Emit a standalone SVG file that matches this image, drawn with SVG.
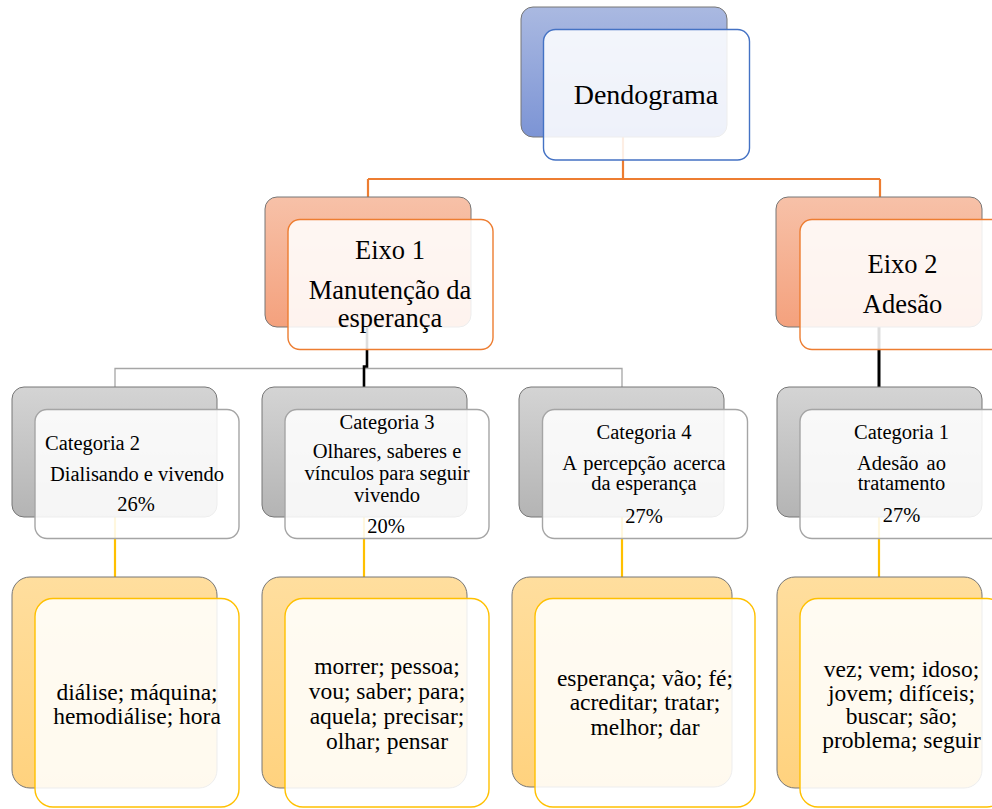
<svg xmlns="http://www.w3.org/2000/svg" width="992" height="809" viewBox="0 0 992 809">
  <defs>
    <linearGradient id="gBlue" x1="0" y1="0" x2="0" y2="1">
      <stop offset="0" stop-color="#AAB9E1"/>
      <stop offset="1" stop-color="#7C94D5"/>
    </linearGradient>
    <linearGradient id="gOrange" x1="0" y1="0" x2="0" y2="1">
      <stop offset="0" stop-color="#F7C1A8"/>
      <stop offset="1" stop-color="#F4A17D"/>
    </linearGradient>
    <linearGradient id="gGray" x1="0" y1="0" x2="0" y2="1">
      <stop offset="0" stop-color="#D4D4D4"/>
      <stop offset="1" stop-color="#B4B4B4"/>
    </linearGradient>
    <linearGradient id="gGold" x1="0" y1="0" x2="0" y2="1">
      <stop offset="0" stop-color="#FFDE9E"/>
      <stop offset="1" stop-color="#FFD27E"/>
    </linearGradient>
  </defs>
  <style>
    .back { stroke: #767676; stroke-width: 1; }
    .front { fill: #FFFFFF; fill-opacity: 0.87; stroke-width: 1.4; }
    .blue { stroke: #4472C4; }
    .orange { stroke: #ED7D31; }
    .gray { stroke: #A5A5A5; }
    .gold { stroke: #FFC000; }
    text { font-family: "Liberation Serif", "Times New Roman", serif; fill: #000; text-anchor: middle; }
    .t1 { font-size: 28px; }
    .t2 { font-size: 26.5px; }
    .t3 { font-size: 20.5px; }
    .t4 { font-size: 23.5px; }
    .line { fill: none; }
  </style>

  <!-- connectors -->
  <g id="connectors">
    <path class="line" d="M623,137 V179 M368,179 H880 M368,179 V197 M880,179 V197" stroke="#ED7D31" stroke-width="2.2"/>
    <path class="line" d="M115,387 V368.5 H622 V387" stroke="#A6A6A6" stroke-width="1.3"/>
    <path class="line" d="M367,327 V366.5 H364 V387" stroke="#000" stroke-width="2.6"/>
    <path class="line" d="M879,327 V387" stroke="#000" stroke-width="3"/>
    <path class="line" d="M115,517 V577 M364,517 V577 M622,517 V577 M879,517 V577" stroke="#FFC000" stroke-width="2.2"/>
  </g>

  <!-- root -->
  <g id="node-dendograma">
    <rect class="back" x="521" y="7" width="206" height="130" rx="12" fill="url(#gBlue)"/>
    <rect class="front blue" x="543.5" y="29.5" width="206" height="130.5" rx="12"/>
    <text class="t1" x="646" y="104">Dendograma</text>
  </g>

  <!-- axis 1 -->
  <g id="node-eixo1">
    <rect class="back" x="265" y="197" width="206" height="130" rx="12" fill="url(#gOrange)"/>
    <rect class="front orange" x="288" y="219.5" width="205" height="130" rx="12"/>
    <text class="t2" x="390" y="259">Eixo 1</text>
    <text class="t2" x="390" y="299">Manutenção da</text>
    <text class="t2" x="390" y="327">esperança</text>
  </g>

  <!-- axis 2 -->
  <g id="node-eixo2">
    <rect class="back" x="776" y="197" width="206" height="130" rx="12" fill="url(#gOrange)"/>
    <rect class="front orange" x="800" y="219.5" width="205" height="130" rx="12"/>
    <text class="t2" x="902.5" y="273">Eixo 2</text>
    <text class="t2" x="902.5" y="313">Adesão</text>
  </g>

  <!-- category 2 -->
  <g id="node-cat2">
    <rect class="back" x="12" y="387" width="205" height="130" rx="12" fill="url(#gGray)"/>
    <rect class="front gray" x="35" y="409.5" width="204" height="129" rx="12"/>
    <text class="t3" x="45" y="450" style="text-anchor:start">Categoria 2</text>
    <text class="t3" x="137" y="481">Dialisando e vivendo</text>
    <text class="t3" x="136" y="511">26%</text>
  </g>

  <!-- category 3 -->
  <g id="node-cat3">
    <rect class="back" x="262" y="387" width="205" height="130" rx="12" fill="url(#gGray)"/>
    <rect class="front gray" x="285" y="409.5" width="204" height="129" rx="12"/>
    <text class="t3" x="387" y="428.5">Categoria 3</text>
    <text class="t3" x="387" y="457.5">Olhares, saberes e</text>
    <text class="t3" x="387" y="480">vínculos para seguir</text>
    <text class="t3" x="387" y="502">vivendo</text>
    <text class="t3" x="386" y="532.5">20%</text>
  </g>

  <!-- category 4 -->
  <g id="node-cat4">
    <rect class="back" x="519" y="387" width="205" height="130" rx="12" fill="url(#gGray)"/>
    <rect class="front gray" x="542.5" y="409.5" width="205" height="129" rx="12"/>
    <text class="t3" x="644" y="439">Categoria 4</text>
    <text class="t3" x="644" y="470" style="word-spacing:2px">A percepção acerca</text>
    <text class="t3" x="644" y="490">da esperança</text>
    <text class="t3" x="644" y="522.5">27%</text>
  </g>

  <!-- category 1 -->
  <g id="node-cat1">
    <rect class="back" x="777" y="387" width="205" height="130" rx="12" fill="url(#gGray)"/>
    <rect class="front gray" x="800" y="409.5" width="205" height="129" rx="12"/>
    <text class="t3" x="901.5" y="439">Categoria 1</text>
    <text class="t3" x="901.5" y="470" style="word-spacing:3px">Adesão ao</text>
    <text class="t3" x="901.5" y="490">tratamento</text>
    <text class="t3" x="901.5" y="522">27%</text>
  </g>

  <!-- word lists -->
  <g id="node-words2">
    <rect class="back" x="12" y="577" width="205" height="211" rx="18" fill="url(#gGold)"/>
    <rect class="front gold" x="35" y="598.5" width="204" height="208.5" rx="18"/>
    <text class="t4" x="137" y="699.5">diálise; máquina;</text>
    <text class="t4" x="137" y="723.5">hemodiálise; hora</text>
  </g>

  <g id="node-words3">
    <rect class="back" x="262" y="577" width="205" height="211" rx="18" fill="url(#gGold)"/>
    <rect class="front gold" x="285" y="598.5" width="204" height="208.5" rx="18"/>
    <text class="t4" x="387" y="673.5">morrer; pessoa;</text>
    <text class="t4" x="387" y="699">vou; saber; para;</text>
    <text class="t4" x="387" y="724">aquela; precisar;</text>
    <text class="t4" x="387" y="749">olhar; pensar</text>
  </g>

  <g id="node-words4">
    <rect class="back" x="512" y="577" width="220" height="210" rx="18" fill="url(#gGold)"/>
    <rect class="front gold" x="535" y="598.5" width="220" height="208.5" rx="18"/>
    <text class="t4" x="645" y="686">esperança; vão; fé;</text>
    <text class="t4" x="645" y="710">acreditar; tratar;</text>
    <text class="t4" x="645" y="734.5">melhor; dar</text>
  </g>

  <g id="node-words1">
    <rect class="back" x="777" y="577" width="205" height="211" rx="18" fill="url(#gGold)"/>
    <rect class="front gold" x="800" y="598.5" width="205" height="208.5" rx="18"/>
    <text class="t4" x="901.5" y="677">vez; vem; idoso;</text>
    <text class="t4" x="901.5" y="700.5">jovem; difíceis;</text>
    <text class="t4" x="901.5" y="724">buscar; são;</text>
    <text class="t4" x="901.5" y="747.5">problema; seguir</text>
  </g>
</svg>
